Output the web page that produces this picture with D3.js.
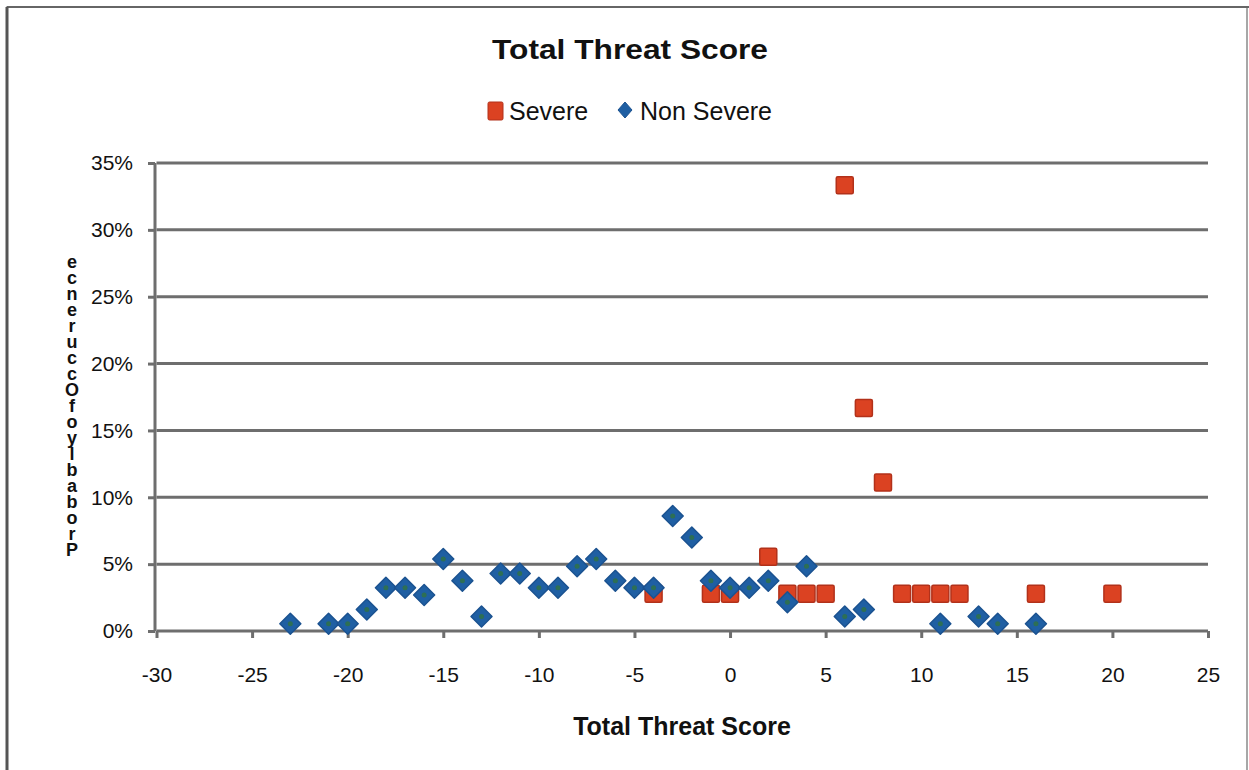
<!DOCTYPE html>
<html>
<head>
<meta charset="utf-8">
<script src="https://cdn.jsdelivr.net/npm/d3@7/dist/d3.min.js"></script>
<style>
  html, body { margin: 0; padding: 0; background: #ffffff; }
  svg { display: block; font-family: "Liberation Sans", Arial, sans-serif; }
</style>
</head>
<body>
<svg id="chart" width="1249" height="770"></svg>
<script>
// ---- data ----
const severeScores = [-4, -1, 0, 2, 3, 4, 5, 6, 7, 8, 9, 10, 11, 12, 16, 20];
const severeValues = [2.78, 2.78, 2.78, 5.56, 2.78, 2.78, 2.78, 33.33, 16.67, 11.11, 2.78, 2.78, 2.78, 2.78, 2.78, 2.78];

const nonSevereScores = [-23, -21, -20, -19, -18, -17, -16, -15, -14, -13, -12, -11, -10, -9, -8, -7, -6, -5, -4, -3, -2, -1, 0, 1, 2, 3, 4, 6, 7, 11, 13, 14, 16];
const nonSevereValues = [0.54, 0.54, 0.54, 1.61, 3.23, 3.23, 2.69, 5.38, 3.76, 1.08, 4.30, 4.30, 3.23, 3.23, 4.84, 5.38, 3.76, 3.23, 3.23, 8.60, 6.99, 3.76, 3.23, 3.23, 3.76, 2.15, 4.84, 1.08, 1.61, 0.54, 1.08, 0.54, 0.54];

const xTicks = [-30, -25, -20, -15, -10, -5, 0, 5, 10, 15, 20, 25];
const xTickLabels = ["-30", "-25", "-20", "-15", "-10", "-5", "0", "5", "10", "15", "20", "25"];
const yTicks = [0, 5, 10, 15, 20, 25, 30, 35];
const yTickLabels = ["0%", "5%", "10%", "15%", "20%", "25%", "30%", "35%"];

const titleText = "Total Threat Score";
const xAxisTitle = "Total Threat Score";
const yAxisTitle = "Probably of Occurence";
const legendLabels = ["Severe", "Non Severe"];

// ---- drawing ----
const svg = d3.select("#chart");
const gridColor = "#6e6e6e";

// outer frame
svg.append("rect").attr("x", 7).attr("y", 7).attr("width", 1240).attr("height", 775)
  .attr("fill", "#ffffff").attr("stroke", "#8a8a8a").attr("stroke-width", 1.5);
svg.append("line").attr("x1", 7).attr("x2", 1249).attr("y1", 7).attr("y2", 7)
  .attr("stroke", "#666").attr("stroke-width", 2);
svg.append("line").attr("x1", 7).attr("x2", 7).attr("y1", 7).attr("y2", 770)
  .attr("stroke", "#555").attr("stroke-width", 3);

const x = d3.scaleLinear().domain([-30, 25]).range([156.5, 1208]);
const y = d3.scaleLinear().domain([0, 35]).range([631, 163]);

// gridlines
svg.append("g").selectAll("line").data(yTicks.filter(d => d > 0)).join("line")
  .attr("x1", x(-30)).attr("x2", x(25))
  .attr("y1", d => y(d)).attr("y2", d => y(d))
  .attr("stroke", gridColor).attr("stroke-width", 3);

// x axis
const xAxis = svg.append("g").attr("transform", `translate(0,${y(0)})`)
  .call(d3.axisBottom(x).tickValues(xTicks).tickSize(7).tickPadding(29)
    .tickFormat((d, i) => xTickLabels[i]));
xAxis.select(".domain").attr("stroke", gridColor).attr("stroke-width", 3)
  .attr("d", `M${x(-30)},0H${x(25)}`);
xAxis.selectAll(".tick line").attr("stroke", gridColor).attr("stroke-width", 3);
xAxis.selectAll(".tick text").attr("font-size", 21).attr("fill", "#111")
  .attr("font-family", "'Liberation Sans', Arial, sans-serif");

// y axis
const yAxis = svg.append("g").attr("transform", `translate(${x(-30) - 1.5},0)`)
  .call(d3.axisLeft(y).tickValues(yTicks).tickSize(7).tickPadding(15)
    .tickFormat((d, i) => yTickLabels[i]));
yAxis.select(".domain").attr("stroke", gridColor).attr("stroke-width", 3)
  .attr("d", `M0,${y(35)}V${y(0)}`);
yAxis.selectAll(".tick line").attr("stroke", gridColor).attr("stroke-width", 3);
yAxis.selectAll(".tick text").attr("font-size", 21).attr("fill", "#111")
  .attr("font-family", "'Liberation Sans', Arial, sans-serif");

// severe squares
const sq = 17;
svg.append("g").selectAll("rect").data(severeScores.map((s, i) => [s, severeValues[i]])).join("rect")
  .attr("x", d => x(d[0]) - sq / 2).attr("y", d => y(d[1]) - sq / 2)
  .attr("width", sq).attr("height", sq).attr("rx", 1.5)
  .attr("fill", "#db4222").attr("stroke", "#b2311a").attr("stroke-width", 1.5);

// non severe diamonds
const dm = 10.5;
const diamond = (cx, cy, r) => `M${cx},${cy - r}L${cx + r},${cy}L${cx},${cy + r}L${cx - r},${cy}Z`;
const nsData = nonSevereScores.map((s, i) => [s, nonSevereValues[i]]);
svg.append("g").selectAll("path").data(nsData).join("path")
  .attr("d", d => diamond(x(d[0]), y(d[1]), dm))
  .attr("fill", "#1f5fa3").attr("stroke", "#1b5290").attr("stroke-width", 1.5)
  .attr("stroke-linejoin", "round");
svg.append("g").selectAll("circle").data(nsData).join("circle")
  .attr("cx", d => x(d[0])).attr("cy", d => y(d[1])).attr("r", 2.5)
  .attr("fill", "#2d6f55");

// title
svg.append("text").attr("x", 630).attr("y", 59).attr("text-anchor", "middle")
  .attr("font-size", 27).attr("font-weight", "bold").attr("fill", "#111")
  .attr("textLength", 276).attr("lengthAdjust", "spacingAndGlyphs")
  .text(titleText);

// legend
svg.append("rect").attr("x", 488).attr("y", 102).attr("width", 15).attr("height", 18).attr("rx", 1.5)
  .attr("fill", "#db4222").attr("stroke", "#b2311a").attr("stroke-width", 1);
svg.append("text").attr("x", 509).attr("y", 120).attr("font-size", 25).attr("fill", "#111")
  .text(legendLabels[0]);
svg.append("path").attr("d", "M625,102L632,110L625,118L618,110Z")
  .attr("fill", "#1f5fa3").attr("stroke", "#1b5290").attr("stroke-width", 1);
svg.append("text").attr("x", 640).attr("y", 120).attr("font-size", 25).attr("fill", "#111")
  .text(legendLabels[1]);

// x axis title
svg.append("text").attr("x", 682).attr("y", 735).attr("text-anchor", "middle")
  .attr("font-size", 25).attr("font-weight", "bold").attr("fill", "#111")
  .text(xAxisTitle);

// y axis title: a single vertical text of upright stacked letters (reads bottom to top)
const yStacked = yAxisTitle.replace(/ /g, "").split("").reverse().join("");
svg.append("text").attr("x", 72).attr("y", 252)
  .style("writing-mode", "vertical-rl").style("text-orientation", "upright")
  .attr("font-size", 18).attr("font-weight", "bold").attr("letter-spacing", -4)
  .attr("fill", "#111").text(yStacked);
</script>
</body>
</html>
